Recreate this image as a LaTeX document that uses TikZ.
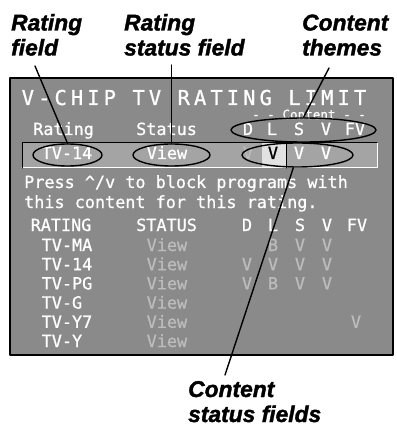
\documentclass[tikz,border=0pt]{standalone}
\usepackage{fontspec}
\usepackage{xcolor}
\usetikzlibrary{shapes.geometric}
\newfontfamily\osdfamily[FakeBold=0.8]{DejaVu Sans Mono}
\newfontfamily\titlefamily[LetterSpace=19.8,FakeBold=0.8]{DejaVu Sans Mono}
\newfontfamily\calloutfamily[FakeBold=1.6]{Liberation Sans}
\definecolor{screengray}{HTML}{8A8A8A}
\definecolor{rowgray}{HTML}{A4A4A4}
\definecolor{cellgray}{HTML}{E2E2E2}
\definecolor{dimtext}{HTML}{BCBCBC}
\tikzset{
  osd/.style={anchor=base west,inner sep=0pt,text=white,font=\osdfamily\fontsize{16.8}{19}\selectfont},
  osdcol/.style={osd,anchor=base},
  dim/.style={text=dimtext},
  callout/.style={anchor=base west,inner sep=0pt,align=left,font=\calloutfamily\bfseries\itshape\fontsize{22.8}{25}\selectfont},
  fieldring/.style={ellipse,draw=black,line width=1.4pt,inner sep=0pt},
  leader/.style={line width=1.4pt,black}
}
\begin{document}
\begin{tikzpicture}[line cap=round,line join=round,x=1pt,y=-1pt]
                \useasboundingbox (0,0) rectangle (396,427);
                % screen
                \draw [fill=screengray,line width=1.8pt] (10,78) rectangle (393,355);
                \fill [rowgray] (22,143) rectangle (377,168);
                \fill [cellgray] (262,143) rectangle (286,168);
                \draw [line width=1pt,white] (22,168) -| (377,143);
                \draw [line width=1pt,black] (22,168) |- (377,143);
                \draw [line width=1pt,black] (286,143) -- (286,168);
                % title and headings
                \node[osd,font=\titlefamily\fontsize{20.5}{24}\selectfont] (title) at (21.5,105) {V-CHIP TV RATING LIMIT};
                \node[osdcol,font=\osdfamily\fontsize{12.6}{14}\selectfont] (contenthead) at (309,119) {- - Content - -};
                \node[osd] (ratinghead) at (33,135) {Rating};
                \node[osd] (statushead) at (136,135) {Status};
                \node[osdcol] (dhead) at (248,135) {D};
                \node[osdcol] (lhead) at (272,135) {L};
                \node[osdcol] (shead) at (299,135) {S};
                \node[osdcol] (vhead) at (326,135) {V};
                \node[osdcol] (fvhead) at (355,135) {FV};
                % selected row
                \node[osd] (selrating) at (41.5,159) {TV-14};
                \node[osd] (selstatus) at (146.5,159) {View};
                \node[osdcol,dim] (seld) at (248,159) {V};
                \node[osdcol,text=black] (sell) at (273,159) {V};
                \node[osdcol] (sels) at (299,159) {V};
                \node[osdcol] (selv) at (326,159) {V};
                % help text
                \node[osd] (help1) at (24,188) {Press \^{}/v to block programs with};
                \node[osd] (help2) at (24,208) {this content for this rating.};
                % table
                \node[osd] (tabrating) at (30.5,231) {RATING};
                \node[osd] (tabstatus) at (136,231) {STATUS};
                \node[osdcol] (tabd) at (247,231) {D};
                \node[osdcol] (tabl) at (273,231) {L};
                \node[osdcol] (tabs) at (300,231) {S};
                \node[osdcol] (tabv) at (327,231) {V};
                \node[osdcol] (tabfv) at (357,231) {FV};
                \node[osd] (ma) at (41.5,251) {TV-MA};
                \node[osd,dim] (mastatus) at (146.5,251) {View};
                \node[osdcol,dim] (mal) at (273,251) {B};
                \node[osdcol,dim] (mas) at (300,251) {V};
                \node[osdcol,dim] (mav) at (327,251) {V};
                \node[osd] (fourteen) at (41.5,270.2) {TV-14};
                \node[osd,dim] (fourteenstatus) at (146.5,270.2) {View};
                \node[osdcol,dim] (fourteend) at (247,270.2) {V};
                \node[osdcol,dim] (fourteenl) at (273,270.2) {V};
                \node[osdcol,dim] (fourteens) at (300,270.2) {V};
                \node[osdcol,dim] (fourteenv) at (327,270.2) {V};
                \node[osd] (pg) at (41.5,289.4) {TV-PG};
                \node[osd,dim] (pgstatus) at (146.5,289.4) {View};
                \node[osdcol,dim] (pgd) at (247,289.4) {V};
                \node[osdcol,dim] (pgl) at (273,289.4) {B};
                \node[osdcol,dim] (pgs) at (300,289.4) {V};
                \node[osdcol,dim] (pgv) at (327,289.4) {V};
                \node[osd] (g) at (41.5,308.6) {TV-G};
                \node[osd,dim] (gstatus) at (146.5,308.6) {View};
                \node[osd] (yseven) at (41.5,327.8) {TV-Y7};
                \node[osd,dim] (ysevenstatus) at (146.5,327.8) {View};
                \node[osdcol,dim] (ysevenfv) at (356,327.8) {V};
                \node[osd] (y) at (41.5,347) {TV-Y};
                \node[osd,dim] (ystatus) at (146.5,347) {View};
                % rings round the fields
                \node[fieldring,minimum width=69pt,minimum height=22pt] (ratingring) at (67.5,155) {};
                \node[fieldring,minimum width=77pt,minimum height=22pt] (statusring) at (171.5,155) {};
                \node[fieldring,minimum width=145pt,minimum height=24pt] (themering) at (303.5,130) {};
                \node[fieldring,minimum width=111pt,minimum height=24pt] (contentring) at (297.5,155) {};
                % callouts
                \node[callout] (ratinglabel) at (11,55.5) {Rating\\field};
                \node[callout] (statuslabel) at (124,55.5) {Rating\\status field};
                \node[callout] (themelabel) at (302,55.5) {Content\\themes};
                \node[callout] (contentlabel) at (188,422) {Content\\status fields};
                \coordinate (ratingtip) at (35,66);
                \coordinate (statustip) at (171.5,65);
                \coordinate (themetip) at (329,68);
                \coordinate (contenttip) at (225,375);
                \draw [leader] (ratingtip) -- (ratingring.north);
                \draw [leader] (statustip) -- (statusring.north);
                \draw [leader] (themetip) -- (themering.north);
                \draw [leader] (contenttip) -- (contentring);
\end{tikzpicture}
\end{document}
